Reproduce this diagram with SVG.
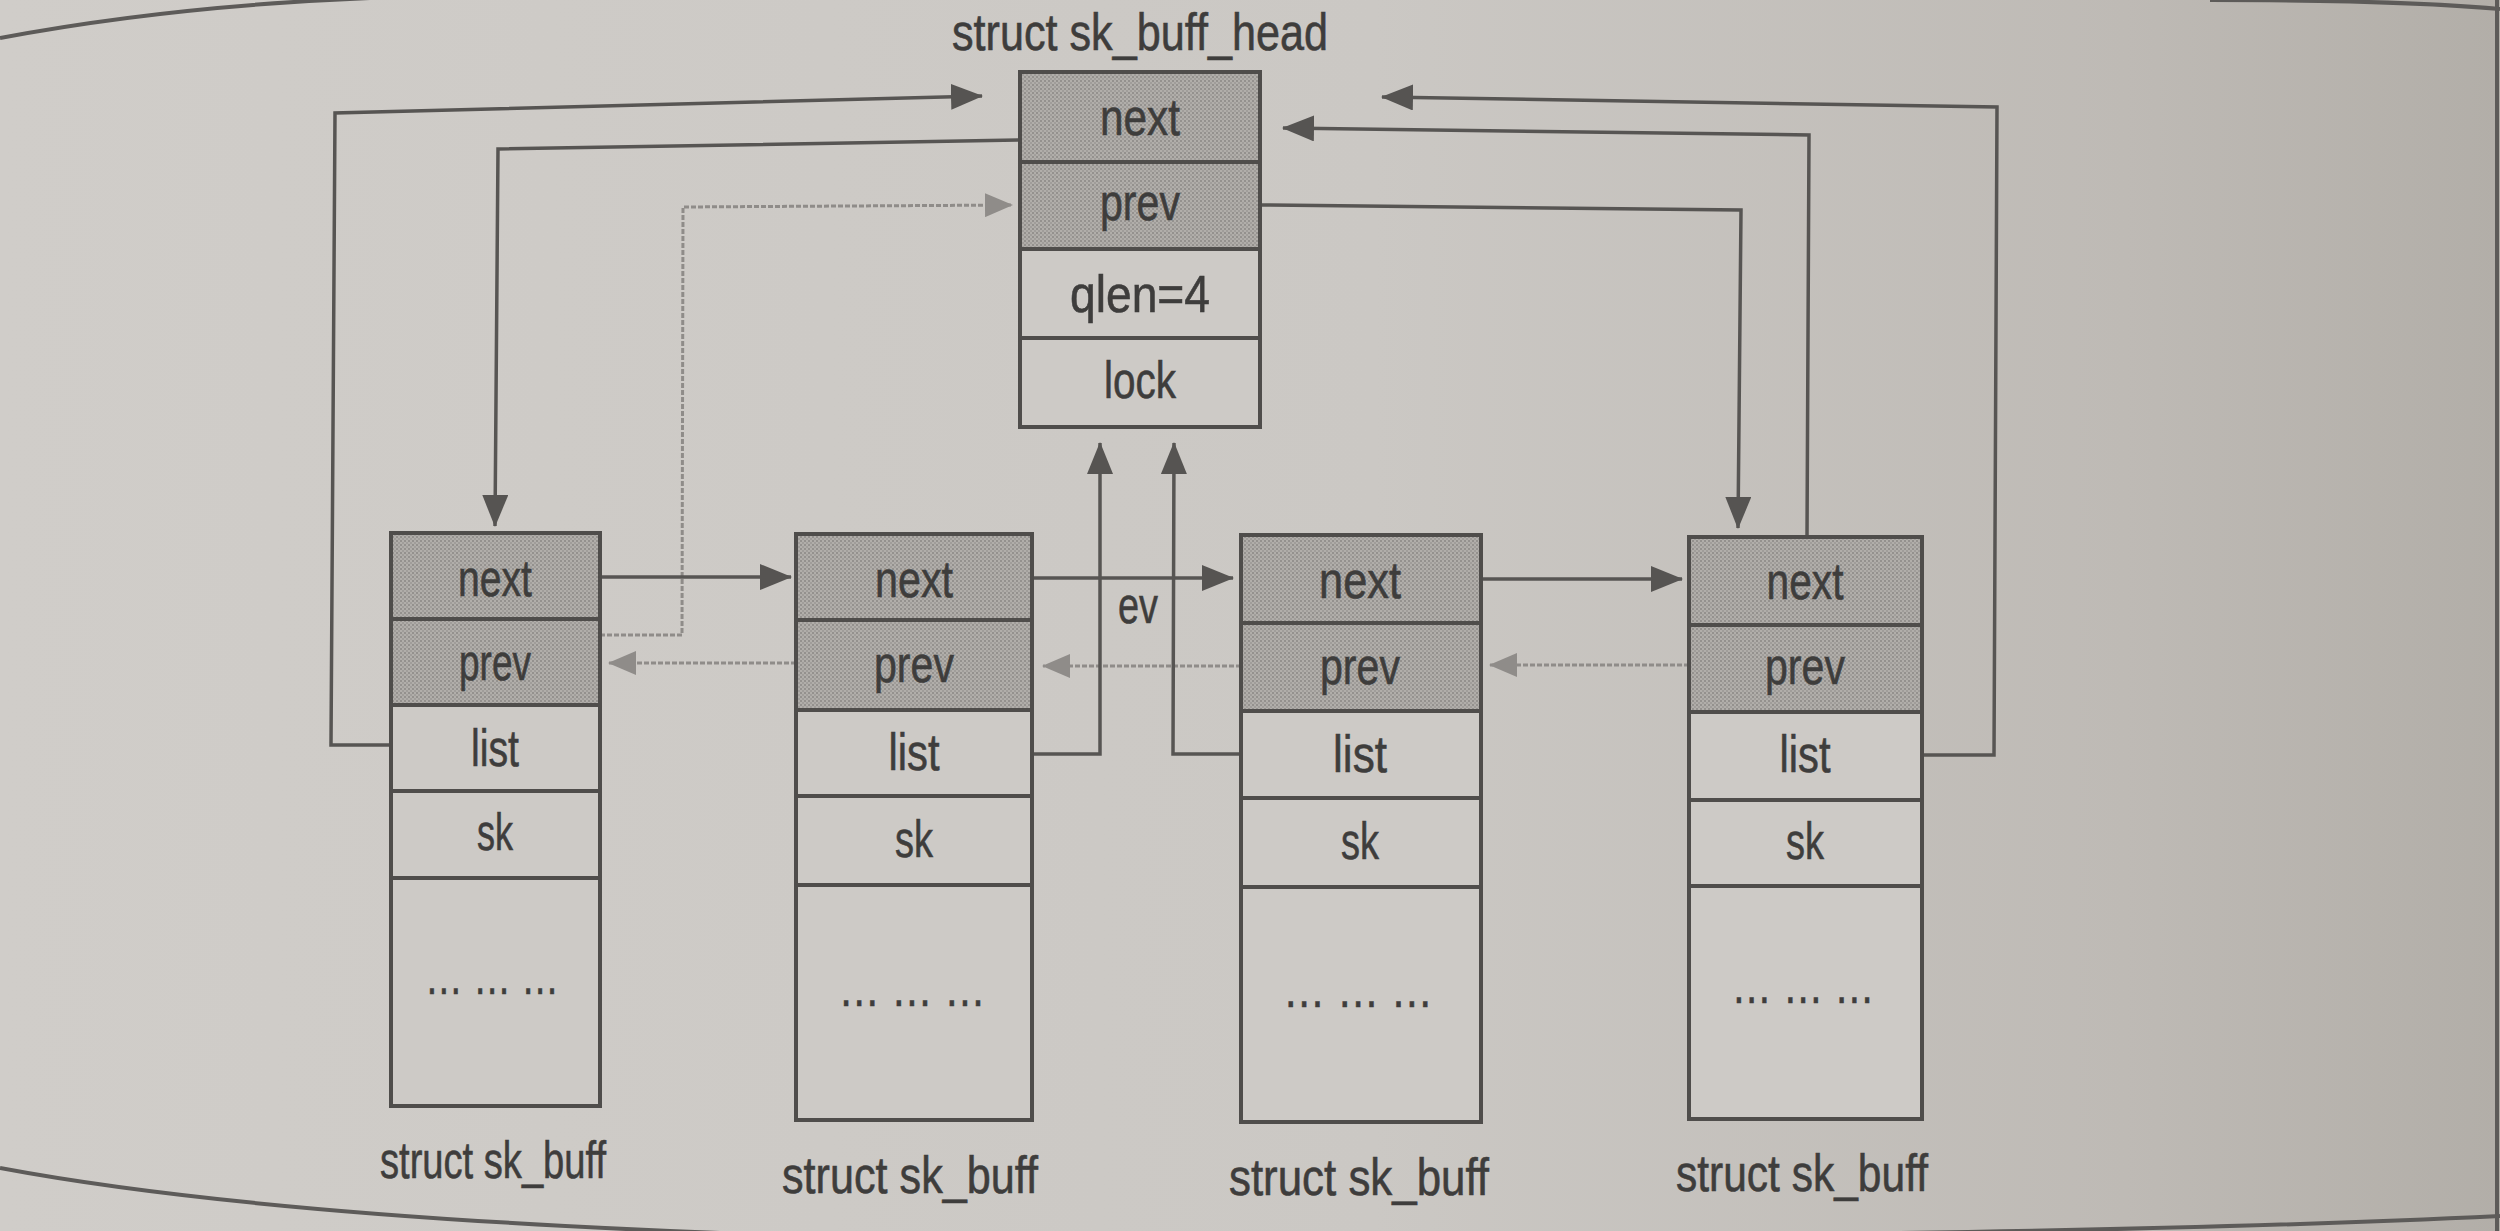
<svg xmlns="http://www.w3.org/2000/svg" width="2500" height="1231" viewBox="0 0 2500 1231">
<defs>
<linearGradient id="paper" x1="0" y1="0" x2="1" y2="0">
<stop offset="0" stop-color="#d0cdc9"/>
<stop offset="0.55" stop-color="#cbc8c4"/>
<stop offset="0.85" stop-color="#bebab5"/>
<stop offset="1" stop-color="#b2aea8"/>
</linearGradient>
<pattern id="stipple" width="4" height="4" patternUnits="userSpaceOnUse">
<rect width="4" height="4" fill="#b1aeaa"/>
<rect x="0" y="0" width="2" height="2" fill="#94918e"/>
<rect x="2" y="2" width="2" height="2" fill="#a09d9a"/>
</pattern>
<marker id="arr" markerUnits="userSpaceOnUse" markerWidth="32" markerHeight="26" viewBox="0 0 32 26" refX="31" refY="13" orient="auto">
<path d="M0,0 L32,13 L0,26 z" fill="#565452"/>
</marker>
<marker id="arrg" markerUnits="userSpaceOnUse" markerWidth="28" markerHeight="24" viewBox="0 0 28 24" refX="27" refY="12" orient="auto">
<path d="M0,0 L28,12 L0,24 z" fill="#8f8c89"/>
</marker>
</defs>
<style>
.cell{stroke:#4f4d4b;stroke-width:4;}
.sh{fill:url(#stipple);}
.pl{fill:#cdcac6;}
.t{font-family:"Liberation Sans",Arial,sans-serif;font-size:52px;fill:#3e3d3c;stroke:#3e3d3c;stroke-width:0.6;text-anchor:middle;}
.c{fill:none;stroke:#575553;stroke-width:3.5;stroke-linejoin:miter;}
.d{fill:none;stroke:#8f8c89;stroke-width:3;stroke-dasharray:5 2;}
.edge{fill:none;stroke:#5d5b59;stroke-width:4;}
</style>
<rect width="2500" height="1231" fill="url(#paper)"/>
<path class="edge" d="M0,38 Q170,6 370,-2"/>
<path class="edge" d="M2210,0 Q2400,0 2500,9"/>
<path class="edge" d="M0,1168 Q250,1215 720,1233"/>
<path class="edge" d="M1900,1233 Q2250,1228 2500,1216"/>
<path class="edge" d="M2497,0 V1231" stroke-width="3"/>

<g id="connectors">
<polyline class="c" points="391,745 331,745 335,113 982,96" marker-end="url(#arr)"/>
<polyline class="c" points="1020,140 498,149 495,526" marker-end="url(#arr)"/>
<polyline class="d" points="600,635 682,635 683,207 1012,205" marker-end="url(#arrg)"/>
<polyline class="c" points="600,577 791,577" marker-end="url(#arr)"/>
<polyline class="d" points="796,663 609,663" marker-end="url(#arrg)"/>
<polyline class="c" points="1032,578 1233,578" marker-end="url(#arr)"/>
<polyline class="d" points="1241,666 1043,666" marker-end="url(#arrg)"/>
<polyline class="c" points="1032,754 1100,754 1100,443" marker-end="url(#arr)"/>
<polyline class="c" points="1241,754 1173,754 1174,443" marker-end="url(#arr)"/>
<polyline class="c" points="1481,579 1682,579" marker-end="url(#arr)"/>
<polyline class="d" points="1689,665 1490,665" marker-end="url(#arrg)"/>
<polyline class="c" points="1260,205 1741,210 1738,528" marker-end="url(#arr)"/>
<polyline class="c" points="1807,537 1809,135 1283,128" marker-end="url(#arr)"/>
<polyline class="c" points="1922,755 1994,755 1997,107 1382,97" marker-end="url(#arr)"/>
<text class="t" x="1138" y="623" textLength="40" lengthAdjust="spacingAndGlyphs">ev</text>
</g>

<g id="sk_buff_head">
<text class="t" x="1140" y="50" textLength="376" lengthAdjust="spacingAndGlyphs">struct sk_buff_head</text>
<rect class="cell sh" x="1020" y="72" width="240" height="90"/>
<rect class="cell sh" x="1020" y="162" width="240" height="87"/>
<rect class="cell pl" x="1020" y="249" width="240" height="89"/>
<rect class="cell pl" x="1020" y="338" width="240" height="89"/>
<text class="t" x="1140" y="135" textLength="80" lengthAdjust="spacingAndGlyphs">next</text>
<text class="t" x="1140" y="220" textLength="80" lengthAdjust="spacingAndGlyphs">prev</text>
<text class="t" x="1140" y="312" textLength="140" lengthAdjust="spacingAndGlyphs">qlen=4</text>
<text class="t" x="1140" y="398" textLength="72" lengthAdjust="spacingAndGlyphs">lock</text>
</g>

<g id="sk_buff_1">
<rect class="cell sh" x="391" y="533" width="209" height="86"/>
<rect class="cell sh" x="391" y="619" width="209" height="86"/>
<rect class="cell pl" x="391" y="705" width="209" height="86"/>
<rect class="cell pl" x="391" y="791" width="209" height="87"/>
<rect class="cell pl" x="391" y="878" width="209" height="228"/>
<text class="t" x="495" y="596" textLength="74" lengthAdjust="spacingAndGlyphs">next</text>
<text class="t" x="495" y="680" textLength="72" lengthAdjust="spacingAndGlyphs">prev</text>
<text class="t" x="495" y="766" textLength="48" lengthAdjust="spacingAndGlyphs">list</text>
<text class="t" x="495" y="850" textLength="36" lengthAdjust="spacingAndGlyphs">sk</text>
<text class="t" x="492" y="994" textLength="134" lengthAdjust="spacingAndGlyphs">… … …</text>
<text class="t" x="493" y="1178" textLength="226" lengthAdjust="spacingAndGlyphs">struct sk_buff</text>
</g>

<g id="sk_buff_2">
<rect class="cell sh" x="796" y="534" width="236" height="86"/>
<rect class="cell sh" x="796" y="620" width="236" height="90"/>
<rect class="cell pl" x="796" y="710" width="236" height="86"/>
<rect class="cell pl" x="796" y="796" width="236" height="89"/>
<rect class="cell pl" x="796" y="885" width="236" height="235"/>
<text class="t" x="914" y="597" textLength="78" lengthAdjust="spacingAndGlyphs">next</text>
<text class="t" x="914" y="682" textLength="80" lengthAdjust="spacingAndGlyphs">prev</text>
<text class="t" x="914" y="770" textLength="51" lengthAdjust="spacingAndGlyphs">list</text>
<text class="t" x="914" y="857" textLength="38" lengthAdjust="spacingAndGlyphs">sk</text>
<text class="t" x="912" y="1006" textLength="147" lengthAdjust="spacingAndGlyphs">… … …</text>
<text class="t" x="910" y="1193" textLength="256" lengthAdjust="spacingAndGlyphs">struct sk_buff</text>
</g>

<g id="sk_buff_3">
<rect class="cell sh" x="1241" y="535" width="240" height="88"/>
<rect class="cell sh" x="1241" y="623" width="240" height="88"/>
<rect class="cell pl" x="1241" y="711" width="240" height="87"/>
<rect class="cell pl" x="1241" y="798" width="240" height="89"/>
<rect class="cell pl" x="1241" y="887" width="240" height="235"/>
<text class="t" x="1360" y="598" textLength="82" lengthAdjust="spacingAndGlyphs">next</text>
<text class="t" x="1360" y="684" textLength="80" lengthAdjust="spacingAndGlyphs">prev</text>
<text class="t" x="1360" y="772" textLength="54" lengthAdjust="spacingAndGlyphs">list</text>
<text class="t" x="1360" y="859" textLength="38" lengthAdjust="spacingAndGlyphs">sk</text>
<text class="t" x="1358" y="1007" textLength="150" lengthAdjust="spacingAndGlyphs">… … …</text>
<text class="t" x="1359" y="1195" textLength="260" lengthAdjust="spacingAndGlyphs">struct sk_buff</text>
</g>

<g id="sk_buff_4">
<rect class="cell sh" x="1689" y="537" width="233" height="88"/>
<rect class="cell sh" x="1689" y="625" width="233" height="87"/>
<rect class="cell pl" x="1689" y="712" width="233" height="88"/>
<rect class="cell pl" x="1689" y="800" width="233" height="86"/>
<rect class="cell pl" x="1689" y="886" width="233" height="233"/>
<text class="t" x="1805" y="599" textLength="77" lengthAdjust="spacingAndGlyphs">next</text>
<text class="t" x="1805" y="684" textLength="80" lengthAdjust="spacingAndGlyphs">prev</text>
<text class="t" x="1805" y="772" textLength="51" lengthAdjust="spacingAndGlyphs">list</text>
<text class="t" x="1805" y="859" textLength="38" lengthAdjust="spacingAndGlyphs">sk</text>
<text class="t" x="1803" y="1003" textLength="143" lengthAdjust="spacingAndGlyphs">… … …</text>
<text class="t" x="1802" y="1191" textLength="252" lengthAdjust="spacingAndGlyphs">struct sk_buff</text>
</g>
</svg>
